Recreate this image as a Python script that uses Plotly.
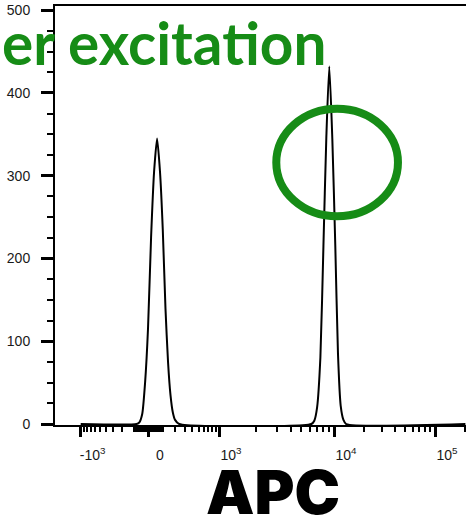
import numpy as np
import plotly.graph_objects as go

# ---- data (APC value, event count) ----
peak1_apc = [-80, -60, -40, -20, 0, 20, 40, 60, 80, 100, 120, 140, 160, 180, 200, 240]
peak1_count = [0, 2, 12, 50, 115, 225, 305, 345, 305, 235, 140, 75, 35, 14, 5, 0]
peak2_apc = [6200, 6600, 7000, 7500, 8000, 8500, 9050, 9650, 10300, 10950, 11650, 12400, 13200]
peak2_count = [0, 4, 20, 80, 215, 345, 432, 345, 215, 85, 22, 5, 0]
baseline_apc = [-1000, 200000]

major_tick_apc = [-1000, 0, 1000, 10000, 100000]
major_tick_text = ["-10<sup>3</sup>", "0", "10<sup>3</sup>", "10<sup>4</sup>", "10<sup>5</sup>"]
minor_tick_apc = ([-v for v in range(100, 1000, 100)] + [-v for v in range(10, 100, 10)] +
                  list(range(10, 100, 10)) + list(range(100, 1000, 100)) +
                  list(range(2000, 10000, 1000)) + list(range(20000, 100000, 10000)) + [200000])
y_major = [0, 100, 200, 300, 400, 500]
y_minor = [v for v in range(0, 526, 25) if v % 100]

highlight_apc = [2960, 43000]
highlight_count = [251, 381]

title_text = "er excitation"
axis_title = "APC"

# ---- biexponential-like display scale (anchors of the FlowJo axis) ----
SCALE_APC = [-10000, -1000, 0, 1000, 3000, 10000, 100000, 1000000]
SCALE_POS = [-74, 25.7, 93, 164, 222, 279, 380, 481]
_G = np.arcsinh(np.array(SCALE_APC) / 200.0) / np.log(10)


def to_display(v):
    g = np.arcsinh(np.asarray(v, dtype=float) / 200.0) / np.log(10)
    return np.interp(g, _G, SCALE_POS)


xs = [baseline_apc[0]] + peak1_apc + peak2_apc + [baseline_apc[1]]
ys = [0] + peak1_count + peak2_count + [0]

fig = go.Figure()
fig.add_trace(go.Scatter(
    x=to_display(xs), y=ys, mode="lines",
    line=dict(color="black", width=2, shape="spline", smoothing=0.6),
    hoverinfo="skip", showlegend=False))

green = "#168c16"
hx = to_display(highlight_apc)
fig.add_shape(type="circle", xref="x", yref="y",
              x0=hx[0], x1=hx[1], y0=highlight_count[0], y1=highlight_count[1],
              line=dict(color=green, width=8), layer="above")

tickfont = dict(family="Liberation Sans, Arial, sans-serif", size=14, color="#1a1a1a")

fig.update_xaxes(
    range=[0, 411], showgrid=False, zeroline=False,
    showline=True, linecolor="black", linewidth=2, mirror=True,
    tickmode="array", tickvals=to_display(major_tick_apc), ticktext=major_tick_text,
    ticks="outside", ticklen=10, tickwidth=2.5, tickcolor="black",
    ticklabelshift=12, ticklabelstandoff=6, tickfont=tickfont,
    minor=dict(tickmode="array", tickvals=to_display(minor_tick_apc),
               ticks="outside", ticklen=5, tickwidth=1.5, tickcolor="black", showgrid=False),
)
fig.update_yaxes(
    range=[-1.2, 505], showgrid=False, zeroline=False,
    showline=True, linecolor="black", linewidth=2, mirror=False,
    tickmode="array", tickvals=y_major, ticktext=[str(v) for v in y_major],
    ticks="outside", ticklen=12, tickwidth=2.5, tickcolor="black",
    ticklabelstandoff=8, tickfont=tickfont,
    minor=dict(tickmode="array", tickvals=y_minor,
               ticks="outside", ticklen=6, tickwidth=1.5, tickcolor="black", showgrid=False),
)

fig.add_annotation(text=title_text, xref="paper", yref="paper",
                   x=-55 / 411, y=(425 - 42) / 419, xanchor="left", yanchor="middle",
                   showarrow=False,
                   font=dict(family="Lato, Open Sans, sans-serif", size=58.5, color=green, weight="bold"))

fig.add_annotation(text=axis_title, xref="paper", yref="paper",
                   x=(272.5 - 55) / 411, y=(425 - 492) / 419, xanchor="center", yanchor="middle",
                   showarrow=False,
                   font=dict(family="Inter, Roboto, sans-serif", size=61, color="black", weight=900))

fig.update_layout(
    width=466, height=521, autosize=False,
    margin=dict(l=55, r=0, t=6, b=96),
    paper_bgcolor="white", plot_bgcolor="white",
    showlegend=False,
)

fig.write_html("out.html")
